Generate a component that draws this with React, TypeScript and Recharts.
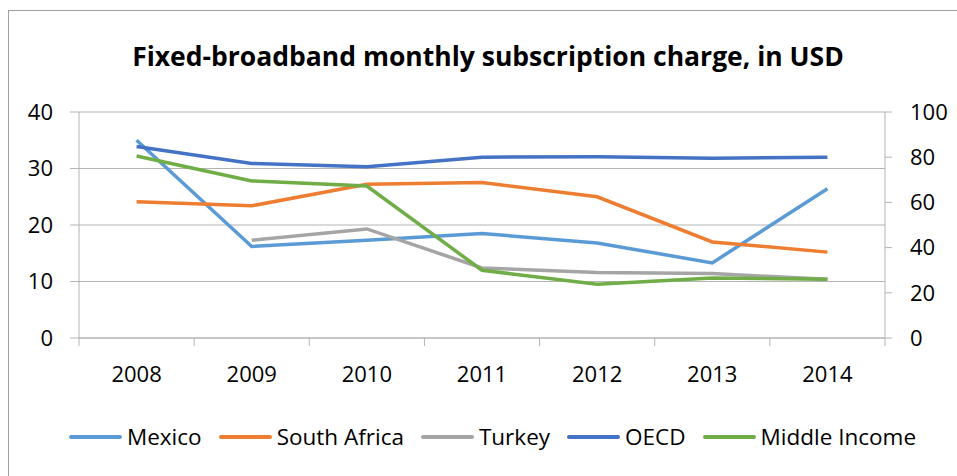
import React from 'react'
import { LineChart, Line, XAxis, YAxis, CartesianGrid, Legend } from 'recharts'

const years = ['2008', '2009', '2010', '2011', '2012', '2013', '2014']
const mexico = [35.0, 16.2, 17.3, 18.5, 16.8, 13.3, 26.4]
const southAfrica = [24.1, 23.4, 27.2, 27.5, 25.0, 17.0, 15.2]
const turkey = [null, 17.3, 19.3, 12.4, 11.6, 11.4, 10.4]
const oecd = [33.9, 30.9, 30.3, 32.0, 32.1, 31.8, 32.0]
const middleIncome = [32.2, 27.8, 26.9, 12.0, 9.5, 10.6, 10.4]

const leftTicks = [0, 10, 20, 30, 40]
const rightTicks = [0, 20, 40, 60, 80, 100]

const series = [
  { key: 'mexico', name: 'Mexico', color: '#5b9bd5' },
  { key: 'southAfrica', name: 'South Africa', color: '#ed7d31' },
  { key: 'turkey', name: 'Turkey', color: '#a5a5a5' },
  { key: 'oecd', name: 'OECD', color: '#4472c4' },
  { key: 'middleIncome', name: 'Middle Income', color: '#70ad47' },
]

const data = years.map((year, i) => ({
  year,
  mexico: mexico[i],
  southAfrica: southAfrica[i],
  turkey: turkey[i],
  oecd: oecd[i],
  middleIncome: middleIncome[i],
}))

const FONT = '"Open Sans", sans-serif'
const GRID = '#b4b4b4'

// category label plus the boundary tick marks Excel draws between categories
function YearTick(props: any) {
  const { x, y, payload, index, visibleTicksCount } = props
  const half = payload.offset || 0
  const top = y - 28
  return (
    <g>
      <line x1={x - half} x2={x - half} y1={top} y2={top + 8} stroke={GRID} />
      {index === visibleTicksCount - 1 && (
        <line x1={x + half} x2={x + half} y1={top} y2={top + 8} stroke={GRID} />
      )}
      <text x={x} y={y} dy="0.71em" textAnchor="middle" fill="#000" fontSize={22} fontFamily={FONT}>
        {payload.value}
      </text>
    </g>
  )
}

function LegendContent() {
  return (
    <div
      style={{
        display: 'flex',
        justifyContent: 'center',
        alignItems: 'center',
        marginTop: 37,
        paddingLeft: 45,
        lineHeight: '24px',
        fontFamily: FONT,
        fontSize: 22.5,
        color: '#000',
      }}
    >
      {series.map((s) => (
        <span key={s.key} style={{ display: 'flex', alignItems: 'center', marginRight: 17 }}>
          <span
            style={{ display: 'inline-block', width: 53, height: 4, background: s.color, marginRight: 5, borderRadius: 2 }}
          />
          {s.name}
        </span>
      ))}
    </div>
  )
}

export default function App() {
  return (
    <div style={{ position: 'absolute', left: 0, top: 0, width: 957, height: 476, overflow: 'hidden', background: '#fff' }}>
      <div
        style={{
          position: 'absolute',
          left: 8,
          top: 10,
          width: 1000,
          height: 520,
          border: '1px solid #a0a0a0',
          boxSizing: 'border-box',
        }}
      />
      <div
        style={{
          position: 'absolute',
          left: 88,
          top: 41,
          width: 800,
          textAlign: 'center',
          whiteSpace: 'nowrap',
          fontFamily: FONT,
          fontWeight: 700,
          fontSize: 26.5,
          lineHeight: '30px',
          color: '#000',
        }}
      >
        Fixed-broadband monthly subscription charge, in USD
      </div>
      <div style={{ position: 'absolute', left: 0, top: 0 }}>
        <LineChart width={957} height={476} data={data} margin={{ top: 112, right: 0, bottom: 28, left: 0 }}>
          <CartesianGrid yAxisId="left" horizontal vertical={false} stroke={GRID} />
          <XAxis
            dataKey="year"
            scale="band"
            height={50}
            tickSize={8}
            tickMargin={20}
            tickLine={false}
            stroke={GRID}
            tick={<YearTick />}
            interval={0}
          />
          <YAxis
            yAxisId="left"
            orientation="left"
            width={79}
            domain={[0, 40]}
            ticks={leftTicks}
            tickSize={9}
            tickMargin={17}
            stroke={GRID}
            tick={{ fill: '#000', fontSize: 22, fontFamily: FONT }}
          />
          <YAxis
            yAxisId="right"
            orientation="right"
            width={72}
            domain={[0, 100]}
            ticks={rightTicks}
            allowDataOverflow
            tickSize={7}
            tickMargin={18}
            stroke={GRID}
            tick={{ fill: '#000', fontSize: 22, fontFamily: FONT }}
          />
          <Legend verticalAlign="bottom" height={60} content={<LegendContent />} />
          {series.map((s) => (
            <Line
              key={s.key}
              yAxisId="left"
              type="linear"
              dataKey={s.key}
              name={s.name}
              stroke={s.color}
              strokeWidth={3.5}
              dot={false}
              activeDot={false}
              isAnimationActive={false}
            />
          ))}
          {/* empty series so the secondary axis gets drawn */}
          <Line
            yAxisId="right"
            dataKey="secondary"
            stroke="none"
            dot={false}
            activeDot={false}
            legendType="none"
            isAnimationActive={false}
          />
        </LineChart>
      </div>
    </div>
  )
}
